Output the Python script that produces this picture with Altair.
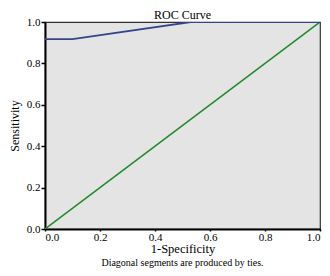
import altair as alt
import pandas as pd

# ROC curve points (1-Specificity, Sensitivity)
roc_x = [0.0, 0.1, 0.53, 1.0]
roc_y = [0.917, 0.917, 1.0, 1.0]
# reference diagonal
diag_x = [0.0, 1.0]
diag_y = [0.0, 1.0]
ticks = [0.0, 0.2, 0.4, 0.6, 0.8, 1.0]
title_text = "ROC Curve"
caption_text = "Diagonal segments are produced by ties."

W, H = 275, 207
FONT = "Liberation Serif"

roc = pd.DataFrame({"x": roc_x, "y": roc_y})
diag = pd.DataFrame({"x": diag_x, "y": diag_y})

xs = alt.Scale(domain=[0, 1], nice=False, zero=False)
ys = alt.Scale(domain=[0, 1], nice=False, zero=False)

xaxis = alt.Axis(values=ticks, format=".1f", title="1-Specificity", grid=False,
                 tickSize=2, tickWidth=1.5, domainWidth=2, domainColor="#000",
                 tickColor="#000", labelFont=FONT, labelFontSize=11, labelColor="#000",
                 titleFont=FONT, titleFontSize=12.5, titleFontWeight="normal", titleColor="#000",
                 labelPadding=0, titlePadding=0)
yaxis = alt.Axis(values=ticks, format=".1f", title="Sensitivity", grid=False,
                 tickSize=4, tickWidth=1.5, domainWidth=2, domainColor="#000",
                 tickColor="#000", labelFont=FONT, labelFontSize=11, labelColor="#000",
                 titleFont=FONT, titleFontSize=12, titleFontWeight="normal", titleColor="#000",
                 labelPadding=1, titlePadding=5)

diag_line = alt.Chart(diag).mark_line(color="#1f8a2a", strokeWidth=1.5, clip=True).encode(
    x=alt.X("x:Q", scale=xs, axis=xaxis),
    y=alt.Y("y:Q", scale=ys, axis=yaxis),
)
roc_line = alt.Chart(roc).mark_line(color="#34458a", strokeWidth=1.8, clip=True).encode(
    x=alt.X("x:Q", scale=xs),
    y=alt.Y("y:Q", scale=ys),
)
title = alt.Chart(pd.DataFrame({"t": [title_text]})).mark_text(
    font=FONT, fontSize=12, color="#000", baseline="alphabetic", align="center"
).encode(
    x=alt.value(W / 2), y=alt.value(-3), text="t:N"
)
caption = alt.Chart(pd.DataFrame({"t": [caption_text]})).mark_text(
    font=FONT, fontSize=10, color="#000", baseline="middle", align="center"
).encode(
    x=alt.value(W / 2), y=alt.value(H + 34), text="t:N"
)

chart = alt.layer(diag_line, roc_line, title, caption).properties(
    width=W, height=H,
    background="white",
    autosize=alt.AutoSizeParams(type="none"),
    padding={"left": 37, "top": 14, "right": 2, "bottom": 39},
).configure_view(
    fill="#e4e4e4", stroke="#333333", strokeWidth=1.2
)

chart.save("out.html", embed_options={"renderer": "svg", "actions": False})
